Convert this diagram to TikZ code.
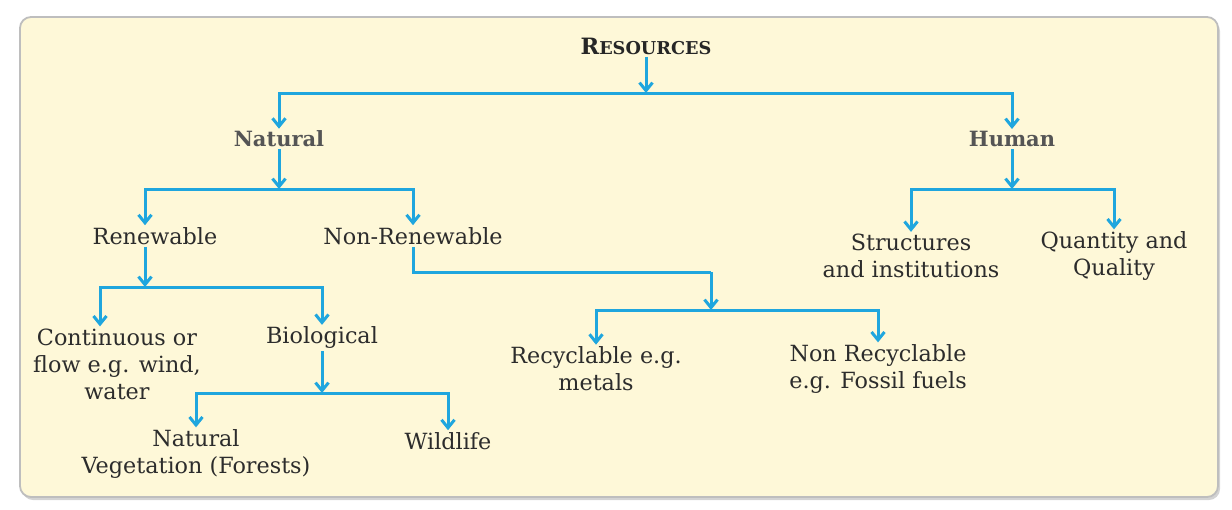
\documentclass[tikz,border=0pt]{standalone}
\usepackage{fontspec}
\setmainfont{DejaVu Serif}
\usetikzlibrary{arrows.meta,shadows}
\definecolor{bg}{HTML}{FEF8D8}
\definecolor{frame}{HTML}{BEBEBE}
\definecolor{arrowblue}{HTML}{1FA6DE}
\definecolor{txt}{HTML}{2C2C2C}
\definecolor{boldtxt}{HTML}{555555}
\tikzset{
  lbl/.style={inner sep=2pt, align=center, text=txt, font=\fontsize{22.3}{27}\selectfont},
  head/.style={inner sep=2pt, text=boldtxt, font=\fontsize{21}{24}\selectfont\bfseries},
  conn/.style={draw=arrowblue, line width=3pt},
  arr/.style={conn, -{Straight Barb[length=8pt,width=13pt,line width=3pt]}},
}
\begin{document}
\begin{tikzpicture}[x=1pt,y=-1pt]
\useasboundingbox (0,0) rectangle (1232,509);
\draw[frame, line width=1.8pt, fill=bg, rounded corners=11pt,
  drop shadow={opacity=0.35, shadow xshift=2pt, shadow yshift=-3pt}]
  (20,17) rectangle (1218,497);

% nodes
\node[inner sep=2pt, text=black!85, font=\fontsize{22.5}{24}\selectfont\bfseries] (res) at (646,46) {R\fontsize{17.7}{20}\selectfont ESOURCES};
\node[head] (nat) at (279,139) {Natural};
\node[head] (hum) at (1012,139) {Human};
\node[lbl] (ren) at (155,236) {Renewable};
\node[lbl] (nonr) at (413,236) {Non-Renewable};
\node[lbl] (str) at (911,256) {Structures\\and institutions};
\node[lbl] (qua) at (1114,256) {Quantity and\\Quality};
\node[lbl] (cont) at (117,364) {Continuous or\\flow e.g. wind,\\water};
\node[lbl] (bio) at (322,338) {Biological};
\node[lbl] (veg) at (196,454) {Natural\\Vegetation (Forests)};
\node[lbl] (wild) at (448,441) {Wildlife};
\node[lbl] (rec) at (596,369) {Recyclable e.g.\\metals};
\node[lbl] (nrec) at (878,369) {Non Recyclable\\e.g. Fossil fuels};

% junctions
\coordinate (j0) at (646,93);
\coordinate (j1) at (279,189);
\coordinate (j2) at (1012,189);
\coordinate (j3) at (145,287);
\coordinate (j4) at (322,393);
\coordinate (k) at (711,272);
\coordinate (j5) at (711,310);

% connectors
\draw[arr] (res.south) -- (j0);
\draw[arr] (j0) -| (nat.north);
\draw[arr] (j0) -| (hum.north);

\draw[arr] (nat.south) -- (j1);
\draw[arr] (j1) -| (ren.north -| j3);
\draw[arr] (j1) -| (nonr.north);

\draw[arr] (hum.south) -- (j2);
\draw[arr] (j2) -| (str.north);
\draw[arr] (j2) -| (qua.north);

\draw[arr] (ren.south -| j3) -- (j3);
\draw[arr] (j3) -| ([xshift=-17pt]cont.north);
\draw[arr] (j3) -| (bio.north);

\draw[arr] (bio.south) -- (j4);
\draw[arr] (j4) -| (veg.north);
\draw[arr] (j4) -| (wild.north);

\draw[conn] (nonr.south) |- (k);
\draw[arr] (k) -- (j5);
\draw[arr] (j5) -| (rec.north);
\draw[arr] (j5) -| (nrec.north);
\end{tikzpicture}
\end{document}
